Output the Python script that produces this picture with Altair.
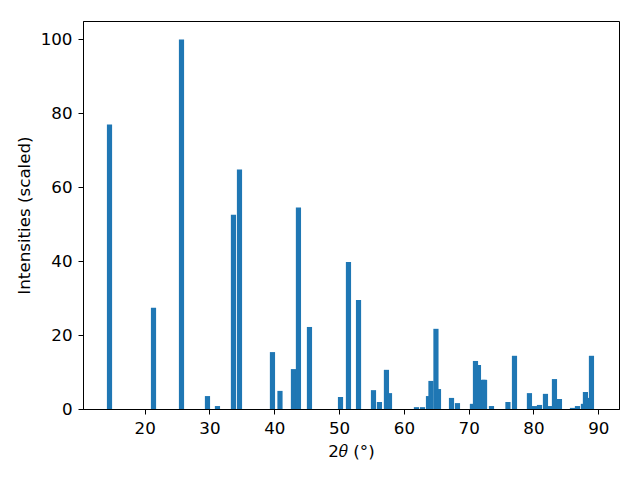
import altair as alt
import pandas as pd

# Peak positions (2θ, degrees) and scaled intensities
positions = [14.57, 21.36, 25.68, 29.69, 31.23, 33.70, 34.63, 39.72, 40.88,
             42.96, 43.73, 45.43, 50.22, 51.45, 53.00, 55.31, 56.23, 57.31,
             57.78, 61.94, 62.87, 63.80, 64.18, 64.95, 65.34, 67.35, 68.27,
             70.58, 71.05, 71.51, 72.20, 72.45, 73.52, 76.06, 77.07, 79.38,
             80.15, 80.93, 81.85, 82.62, 83.24, 84.01, 86.02, 86.79, 87.71,
             88.02, 88.33, 88.95]
intensities = [77.0, 27.4, 100.0, 3.5, 0.8, 52.6, 64.8, 15.4, 4.9,
               10.8, 54.5, 22.2, 3.25, 39.8, 29.5, 5.1, 1.9, 10.6,
               4.3, 0.5, 0.5, 3.5, 7.6, 21.7, 5.4, 3.0, 1.6,
               1.4, 13.0, 11.9, 7.9, 7.9, 0.8, 1.9, 14.4, 4.3,
               0.8, 1.1, 4.1, 0.8, 8.1, 2.7, 0.3, 0.8, 1.4,
               4.6, 3.0, 14.4]
x_ticks = [20, 30, 40, 50, 60, 70, 80, 90]
y_ticks = [0, 20, 40, 60, 80, 100]
bar_width = 0.8

df = pd.DataFrame({"pos": positions, "inten": intensities})

font = "DejaVu Sans"

chart = (
    alt.Chart(df)
    .transform_calculate(
        x0=f"datum.pos - {bar_width/2}",
        x1=f"datum.pos + {bar_width/2}",
        base="0",
    )
    .mark_bar(color="#1f77b4", opacity=1)
    .encode(
        x=alt.X("x0:Q",
                scale=alt.Scale(domain=[10.48, 93.2], nice=False, zero=False),
                axis=alt.Axis(values=x_ticks, title="2𝜃 (°)", grid=False)),
        x2="x1:Q",
        y=alt.Y("inten:Q",
                scale=alt.Scale(domain=[0, 105], nice=False),
                axis=alt.Axis(values=y_ticks, title="Intensities (scaled)", grid=False)),
        y2="base:Q",
    )
    .properties(
        width=536,
        height=388,
        autosize=alt.AutoSizeParams(type="none"),
        padding={"left": 75, "top": 13, "right": 13, "bottom": 63},
    )
    .configure_view(stroke="black", strokeWidth=1)
    .configure_axis(
        domainColor="black",
        domainWidth=1,
        tickColor="black",
        tickSize=5,
        tickWidth=1,
        labelFont=font,
        labelFontSize=16.7,
        labelColor="black",
        labelPadding=6,
        titleFont=font,
        titleFontSize=16.7,
        titleFontWeight="normal",
        titleColor="black",
    )
    .configure_axisX(titlePadding=7)
    .configure_axisY(titlePadding=7)
)

chart.save("out.html", embed_options={"renderer": "svg", "actions": False})
